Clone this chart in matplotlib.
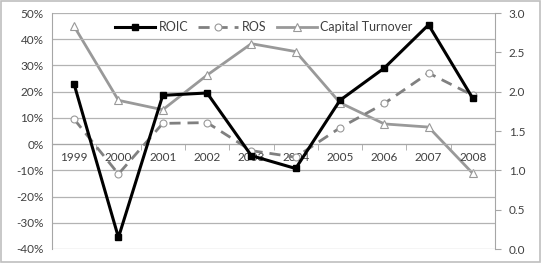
import matplotlib.pyplot as plt
import matplotlib.patches as patches
from matplotlib.ticker import FuncFormatter, FixedLocator

years = ['1999', '2000', '2001', '2002', '2003', '2004', '2005', '2006', '2007', '2008']
roic = [22.8, -35.6, 18.6, 19.5, -4.4, -9.3, 16.7, 29.0, 45.5, 17.4]
ros = [9.5, -11.4, 7.9, 8.2, -2.5, -5.0, 6.2, 15.5, 27.1, 18.6]
turnover = [2.83, 1.89, 1.77, 2.21, 2.61, 2.51, 1.86, 1.59, 1.55, 0.96]

plt.rcParams['font.family'] = ['Lato', 'DejaVu Sans']
txt = '#404040'

fig = plt.figure(figsize=(5.42, 2.75), dpi=100)
ax = fig.add_axes([52/542, 1-249/275, (495-52)/542, (249-13)/275])
ax2 = ax.twinx()
ax.set_zorder(ax2.get_zorder() + 1)
ax.patch.set_visible(False)

x = list(range(len(years)))
# capital turnover on the right axis
l3, = ax2.plot(x, turnover, color='#999999', lw=2, marker='^', ms=6,
               mfc='white', mec='#999999', mew=0.8)
l1, = ax.plot(x, roic, color='black', lw=2.2, marker='s', ms=5, zorder=4)
l2, = ax.plot(x, ros, color='#808080', lw=2, ls=(0, (4, 2.5)), marker='o', ms=5,
              mfc='white', mec='#999999', mew=0.8, zorder=3)

ax.set_xlim(-0.5, len(years) - 0.5)
ax.set_ylim(-40, 50)
ax2.set_ylim(0, 3)
ax.set_yticks(range(-40, 51, 10))
ax.yaxis.set_major_formatter(FuncFormatter(lambda v, p: f'{v:.0f}%'))
ax2.set_yticks([0, 0.5, 1, 1.5, 2, 2.5, 3])
ax2.yaxis.set_major_formatter(FuncFormatter(lambda v, p: f'{v:.1f}'))

# grid
ax.yaxis.grid(True, color='#b3b3b3', lw=0.9)
ax.set_axisbelow(True)

# x axis at zero
ax.spines['bottom'].set_position(('data', 0))
ax.spines['bottom'].set_color('#a6a6a6')
ax.set_xticks(x)
ax.set_xticklabels(years)
ax.xaxis.set_minor_locator(FixedLocator([i + 0.5 for i in range(-1, len(years))]))
ax.tick_params(axis='x', which='major', length=0, pad=6, labelsize=8.5, colors=txt)
ax.tick_params(axis='x', which='minor', length=4, color='#a6a6a6', direction='out')

for s in ['top', 'right']:
    ax.spines[s].set_visible(False)
ax2.spines['left'].set_visible(False)
ax2.spines['bottom'].set_visible(False)
ax2.spines['top'].set_visible(False)
ax.spines['left'].set_color('#a6a6a6')
ax2.spines['right'].set_color('#a6a6a6')

ax.tick_params(axis='y', length=0, pad=6, labelsize=8.5, colors=txt)
ax2.tick_params(axis='y', length=4, color='#a6a6a6', pad=6, labelsize=8.5, labelcolor=txt)

ax.legend([l1, l2, l3], ['ROIC', 'ROS', 'Capital Turnover'], ncol=3, frameon=False,
          loc='center', bbox_to_anchor=(0.478, 0.94), fontsize=9, handlelength=3.2,
          columnspacing=0.8, handletextpad=0.3, labelcolor=txt)

# outer chart border
fig.patches.append(patches.Rectangle((1/542, 13/275), 539/542, 1 - 14/275,
                                     transform=fig.transFigure, fill=False,
                                     edgecolor='#bfbfbf', lw=1.2))

fig.savefig('out.png', dpi=100)
